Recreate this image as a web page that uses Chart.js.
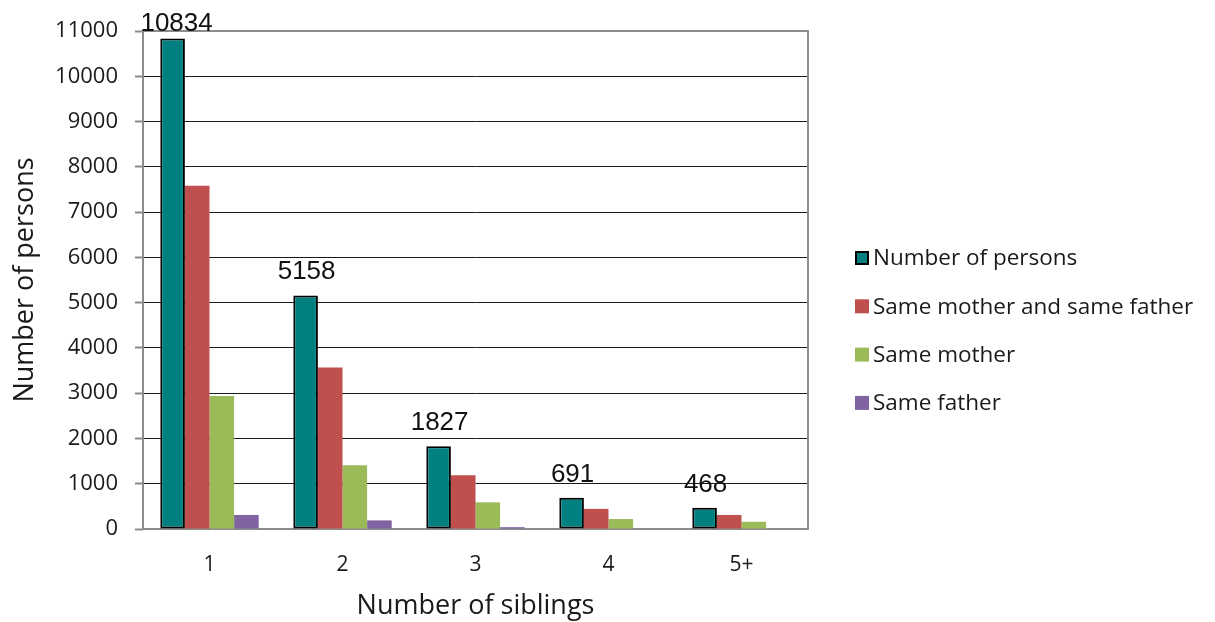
<!DOCTYPE html>
<html>
<head>
<meta charset="utf-8">
<title>Number of siblings</title>
<script src="https://cdn.jsdelivr.net/npm/chart.js@4/dist/chart.umd.min.js"></script>
<style>
  html, body { margin: 0; padding: 0; background: #fff; }
  #wrap { width: 1215px; height: 622px; }
</style>
</head>
<body>
<div id="wrap"><canvas id="siblingsChart" width="1215" height="622"></canvas></div>
<script>
"use strict";

const categories = ["1", "2", "3", "4", "5+"];
const seriesNames = ["Number of persons", "Same mother and same father", "Same mother", "Same father"];
const persons = [10834, 5158, 1827, 691, 468];
const sameBoth = [7580, 3570, 1190, 445, 310];
const sameMother = [2940, 1410, 590, 220, 160];
const sameFather = [310, 190, 40, 10, 0];
const yTicks = [0, 1000, 2000, 3000, 4000, 5000, 6000, 7000, 8000, 9000, 10000, 11000];

const colors = ["#008080", "#C0504D", "#9BBB59", "#8064A2"];
const bodyFont = "'Open Sans', 'Noto Sans', sans-serif";

// grey frame round the plot area, drawn under the bars
const frame = {
  id: "frame",
  beforeDatasetsDraw(chart) {
    let a = chart.chartArea;
    let ctx = chart.ctx;
    ctx.save();
    ctx.strokeStyle = "#8c8c8c";
    ctx.lineWidth = 2;
    ctx.strokeRect(a.left, a.top, a.right - a.left, a.bottom - a.top);
    ctx.restore();
  }
};

// values above the teal bars (the tallest one is squeezed against the top)
const topLabels = {
  id: "topLabels",
  afterDatasetsDraw(chart) {
    let ctx = chart.ctx;
    let meta = chart.getDatasetMeta(0);
    ctx.save();
    ctx.font = "26px 'Liberation Sans', Arial, sans-serif";
    ctx.fillStyle = "#111";
    ctx.textAlign = "center";
    ctx.textBaseline = "alphabetic";
    meta.data.forEach(function (bar, i) {
      let y = Math.max(bar.y - 16, 31);
      let dx = y > bar.y - 16 ? 4 : 1;
      ctx.fillText(String(persons[i]), bar.x + dx, y);
    });
    ctx.restore();
  }
};

// legend on the right
const sideLegend = {
  id: "sideLegend",
  afterDraw(chart) {
    let ctx = chart.ctx;
    ctx.save();
    ctx.font = "22.5px " + bodyFont;
    ctx.textBaseline = "middle";
    chart.data.datasets.forEach(function (ds, i) {
      let y = 258 + i * 48.3;
      ctx.fillStyle = ds.backgroundColor;
      ctx.fillRect(855, y - 7, 14, 14);
      if (ds.borderWidth > 0) {
        ctx.strokeStyle = "#000";
        ctx.lineWidth = 2;
        ctx.strokeRect(856, y - 6, 12, 12);
      }
      ctx.fillStyle = "#1a1a1a";
      ctx.fillText(ds.label, 873, y + 1);
    });
    ctx.restore();
  }
};

const datasets = [persons, sameBoth, sameMother, sameFather].map(function (values, i) {
  return {
    label: seriesNames[i],
    data: values,
    backgroundColor: colors[i],
    borderColor: "#000",
    borderWidth: i === 0 ? 2 : 0,
    borderSkipped: false,
    categoryPercentage: 0.74,
    barPercentage: 1.0
  };
});

const ctx = document.getElementById("siblingsChart").getContext("2d");
new Chart(ctx, {
  type: "bar",
  data: { labels: categories, datasets: datasets },
  options: {
    responsive: false,
    animation: false,
    layout: { padding: { top: 31, right: 407, bottom: 0, left: 0 } },
    plugins: {
      legend: { display: false },
      tooltip: { enabled: false }
    },
    scales: {
      x: {
        afterFit(scale) { scale.height = 93; },
        grid: { display: false, drawTicks: false },
        border: { display: false },
        ticks: { padding: 23, color: "#1a1a1a", font: { family: bodyFont, size: 21 } },
        title: {
          display: true,
          text: "Number of siblings",
          color: "#1a1a1a",
          font: { family: bodyFont, size: 27 },
          padding: { top: 0, bottom: -1 }
        }
      },
      y: {
        min: 0,
        max: 11000,
        afterBuildTicks(scale) {
          scale.ticks = yTicks.map(function (v) { return { value: v }; });
        },
        afterFit(scale) { scale.width = 143; },
        grid: { color: "#1a1a1a", lineWidth: 1, drawTicks: true, tickLength: 8, tickColor: "#8c8c8c", tickWidth: 2 },
        border: { display: false },
        ticks: {
          padding: 17,
          color: "#1a1a1a",
          font: { family: bodyFont, size: 22 },
          callback: function (value) { return String(value); }
        },
        title: {
          display: true,
          text: "Number of persons",
          color: "#1a1a1a",
          font: { family: bodyFont, size: 27 },
          padding: { top: 9, bottom: 0 }
        }
      }
    }
  },
  plugins: [frame, topLabels, sideLegend]
});
</script>
</body>
</html>
